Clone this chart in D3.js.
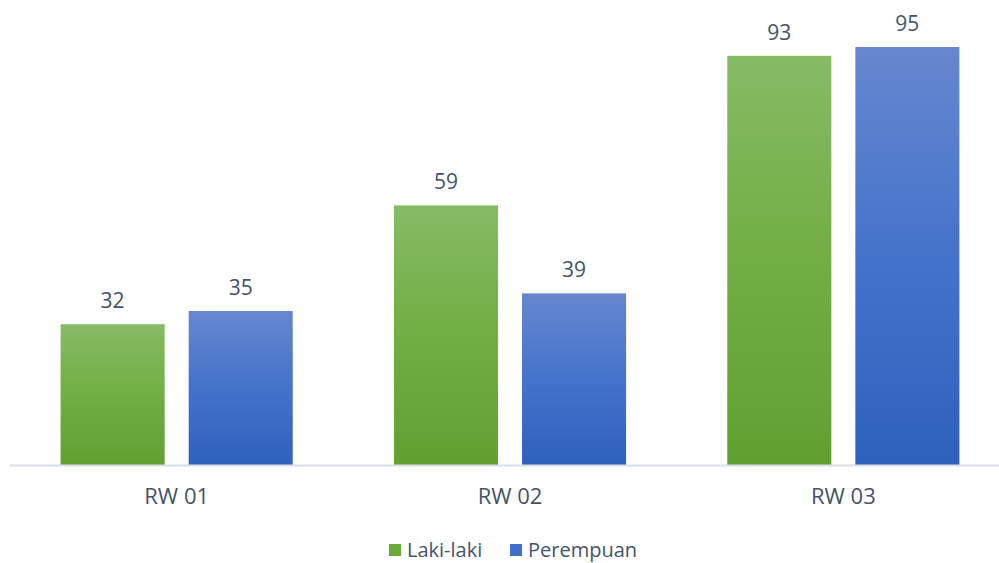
<!DOCTYPE html>
<html>
<head>
<meta charset="utf-8">
<script src="https://cdn.jsdelivr.net/npm/d3@7"></script>
<style>
  html, body { margin: 0; padding: 0; background: #ffffff; }
  svg { display: block; font-family: "Open Sans", "Noto Sans", sans-serif; }
</style>
</head>
<body>
<svg id="chart" width="999" height="563"></svg>
<script>
// Population by RW and sex
const categories = ["RW 01", "RW 02", "RW 03"];
const seriesNames = ["Laki-laki", "Perempuan"];
const lakiLaki = [32, 59, 93];
const perempuan = [35, 39, 95];

const svg = d3.select("#chart");
const baseY = 465;
const textColor = "#44546a";

const x0 = d3.scaleBand()
  .domain(categories)
  .range([10, 1010])
  .paddingInner(0.3036)
  .paddingOuter(0.1518);

const x1 = d3.scaleBand()
  .domain(seriesNames)
  .range([0, x0.bandwidth()])
  .paddingInner(0.1875)
  .paddingOuter(0);

const y = d3.scaleLinear().domain([0, 100]).range([baseY, 25]);

// vertical gradients for each series
const defs = svg.append("defs");
const gradStops = {
  "Laki-laki": ["#86bb65", "#71ae43", "#60a031"],
  "Perempuan": ["#6787cf", "#4473cb", "#2e61bd"]
};
const colors = { "Laki-laki": "#6aab3c", "Perempuan": "#3f6fca" };
seriesNames.forEach((s, i) => {
  const g = defs.append("linearGradient")
    .attr("id", "grad" + i)
    .attr("x1", 0).attr("y1", 0).attr("x2", 0).attr("y2", 1);
  gradStops[s].forEach((c, j) => {
    g.append("stop").attr("offset", (j * 50) + "%").attr("stop-color", c);
  });
});

const rows = categories.map((c, i) => ({
  cat: c,
  values: [
    { series: "Laki-laki", idx: 0, v: lakiLaki[i] },
    { series: "Perempuan", idx: 1, v: perempuan[i] }
  ]
}));

const groups = svg.selectAll("g.grp")
  .data(rows)
  .join("g")
  .attr("class", "grp")
  .attr("transform", d => `translate(${x0(d.cat)},0)`);

groups.selectAll("rect")
  .data(d => d.values)
  .join("rect")
  .attr("x", d => x1(d.series))
  .attr("y", d => y(d.v))
  .attr("width", x1.bandwidth())
  .attr("height", d => y(0) - y(d.v))
  .attr("fill", d => `url(#grad${d.idx})`);

groups.selectAll("text.val")
  .data(d => d.values)
  .join("text")
  .attr("class", "val")
  .attr("x", d => x1(d.series) + x1.bandwidth() / 2)
  .attr("y", d => y(d.v) - 16)
  .attr("text-anchor", "middle")
  .attr("font-size", 21)
  .attr("fill", textColor)
  .text(d => d.v);

// category axis
const axis = svg.append("g").attr("transform", `translate(0,${baseY})`)
  .call(d3.axisBottom(x0).tickSize(0).tickPadding(0));
axis.select(".domain").attr("stroke", "#d9dee8").attr("stroke-width", 2)
  .attr("d", "M10,0.5H1010");
axis.selectAll(".tick text")
  .attr("dy", null)
  .attr("y", 39)
  .attr("font-size", 22)
  .attr("font-family", "'Open Sans', sans-serif")
  .attr("fill", textColor);

// legend
const legend = svg.append("g");
const legendX = [389, 510];
seriesNames.forEach((s, i) => {
  const lg = legend.append("g").attr("transform", `translate(${legendX[i]},544)`);
  lg.append("rect").attr("width", 12).attr("height", 12).attr("fill", colors[s]);
  lg.append("text").attr("x", 18).attr("y", 12.5)
    .attr("font-size", 20).attr("fill", textColor).text(s);
});
</script>
</body>
</html>
